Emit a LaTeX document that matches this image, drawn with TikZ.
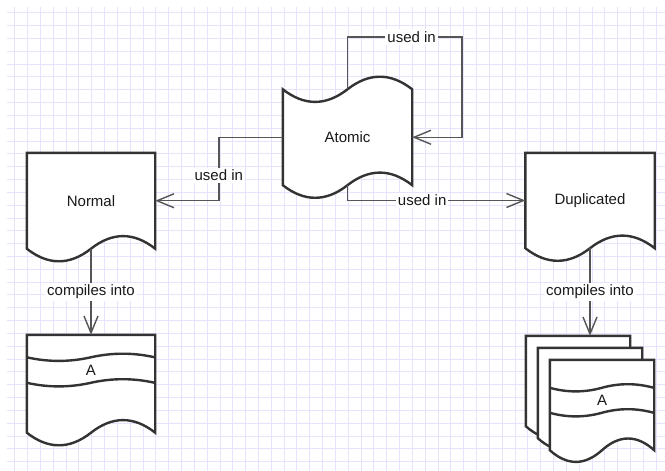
\documentclass[tikz,border=0pt]{standalone}
\usepackage{fontspec}
\setmainfont{Liberation Sans}
\usetikzlibrary{arrows.meta}

\definecolor{gridcol}{RGB}{228,228,252}
\definecolor{linecol}{RGB}{51,51,51}
\definecolor{conncol}{RGB}{85,85,85}
\definecolor{txtcol}{RGB}{25,25,25}

\pgfdeclarelayer{grid}
\pgfdeclarelayer{shapes}
\pgfsetlayers{grid,shapes,main}

% #1 node, #2 width, #3 wave depth
\newcommand{\tapeoutline}[3]{%
  \draw[outline] (#1.north west)
    .. controls +({#2/6},{0.6*#3}) and +({-#2/6},{0.6*#3}) .. (#1.north)
    .. controls +({#2/6},{-0.6*#3}) and +({-#2/6},{-0.6*#3}) .. (#1.north east)
    -- (#1.south east)
    .. controls +({-#2/6},{-0.6*#3}) and +({#2/6},{-0.6*#3}) .. (#1.south)
    .. controls +({-#2/6},{0.6*#3}) and +({#2/6},{0.6*#3}) .. (#1.south west)
    -- cycle;}
\newcommand{\docoutline}[3]{%
  \draw[outline] (#1.north west) -- (#1.north east) -- (#1.south east)
    .. controls +({-#2/6},{-0.6*#3}) and +({#2/6},{-0.6*#3}) .. (#1.south)
    .. controls +({-#2/6},{0.6*#3}) and +({#2/6},{0.6*#3}) .. (#1.south west)
    -- cycle;}
% #1 node, #2 width, #3 offset from top
\newcommand{\codelines}[3]{%
  \draw[outline, fill=none] (#1.north west) ++(0,#3)
    .. controls +({#2/6},4.8) and +({-#2/6},4.8) .. ++({#2/2},0)
    .. controls +({#2/6},-4.8) and +({-#2/6},-4.8) .. ++({#2/2},0);}

\begin{document}
\begin{tikzpicture}[x=1pt, y=-1pt,
    font=\fontsize{15}{18}\selectfont, text=txtcol,
    gridline/.style={draw=gridcol, line width=1pt},
    outline/.style={draw=linecol, line width=2.4pt, fill=white},
    box/.style={inner sep=0pt},
    page/.style={box, minimum width=104pt, minimum height=90pt},
    conn/.style={draw=conncol, line width=1.4pt,
                 -{Straight Barb[length=17pt,width=14pt]}},
    lbl/.style={fill=white, inner sep=2pt}
]
    \useasboundingbox (0,0) rectangle (665,471);

    % background grid
    \begin{pgfonlayer}{grid}
        \fill[white] (0,0) rectangle (665,471);
        \foreach \i in {1,...,51}
            \draw[gridline] ({1.9+12.83*\i},7) -- ({1.9+12.83*\i},471);
        \foreach \j in {1,...,36}
            \draw[gridline] (7,{-0.1+12.83*\j}) -- (665,{-0.1+12.83*\j});
    \end{pgfonlayer}

    \node[box, minimum width=129pt, minimum height=95.5pt] (atomic)   at (347.5,137.25) {Atomic};
    \node[box, minimum width=128pt, minimum height=95.5pt] (normal)   at (91,200.75)    {Normal};
    \node[box, minimum width=129pt, minimum height=95pt]   (dup)      at (590,200.5)    {Duplicated};
    \node[box, minimum width=128pt, minimum height=97.5pt] (normcode) at (91,383.75)    {};
    \node[page] (dpage1) at (578,381) {};
    \node[page] (dpage2) at (590,393) {};
    \node[page] (dpage3) at (602,405) {};
    \node (normA) at (91,370.5) {A};
    \node (dupA)  at (602,400.5) {A};

    % shape outlines behind the texts
    \begin{pgfonlayer}{shapes}
        \tapeoutline{atomic}{129}{28}
        \docoutline{normal}{128}{28}
        \docoutline{dup}{129}{28}
        \docoutline{normcode}{128}{28}
        \codelines{normcode}{128}{22.5}
        \codelines{normcode}{128}{48}
        \foreach \p in {1,2,3} {\docoutline{dpage\p}{104}{26}}
        \codelines{dpage3}{104}{28}
        \codelines{dpage3}{104}{53}
    \end{pgfonlayer}

    \coordinate (loop) at (462,37);
    \draw[conn] (atomic.north) |- node[lbl, pos=0.78] {used in} (loop) |- (atomic.east);
    \draw[conn] (atomic.west) -- ++(-64,0) |- node[lbl, pos=0.3] {used in} (normal.east);
    \draw[conn] (atomic.south) |- node[lbl, pos=0.71] {used in} (dup.west);
    \draw[conn] (normal.south) -- node[lbl] {compiles into} (normcode.north);
    \draw[conn] (dup.south) -- node[lbl] {compiles into} (dup.south |- dpage1.north);
\end{tikzpicture}
\end{document}
